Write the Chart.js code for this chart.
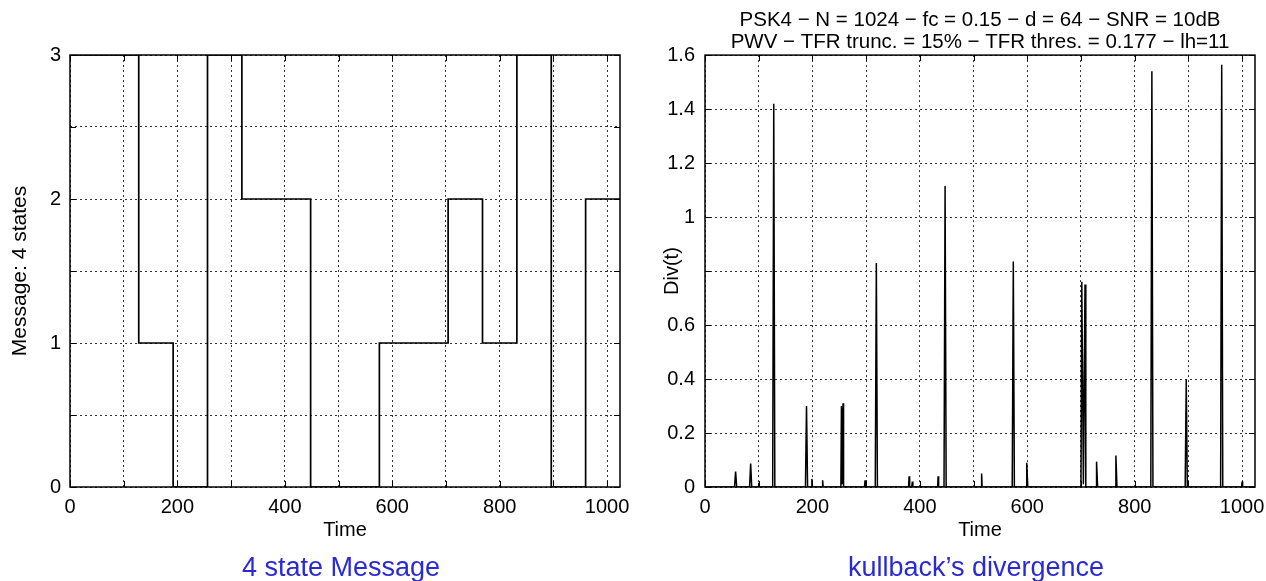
<!DOCTYPE html>
<html>
<head>
<meta charset="utf-8">
<script src="https://cdn.jsdelivr.net/npm/chart.js"></script>
<style>
  body { margin: 0; background: #fff; width: 1266px; height: 581px; overflow: hidden; position: relative; font-family: "Liberation Sans", Arial, sans-serif; }
  .panel { position: absolute; top: 0; width: 633px; height: 581px; }
  .caption { position: absolute; top: 552px; font-size: 27px; line-height: 30px; color: #2a2ad4; transform: translateX(-50%); white-space: nowrap; }
</style>
</head>
<body>
<div class="panel" style="left:0"><canvas id="msgChart" width="633" height="581"></canvas></div>
<div class="panel" style="left:633px"><canvas id="divChart" width="633" height="581"></canvas></div>
<div class="caption" style="left:341px">4 state Message</div>
<div class="caption" style="left:976px">kullback’s divergence</div>
<script>
// message symbols (d = 64 samples each), value holds until next time
const msgTime  = [0, 64, 128, 192, 256, 320, 384, 448, 512, 576, 640, 704, 768, 832, 896, 960, 1024];
const msgState = [3, 3,  1,   0,   3,   2,   2,   0,   0,   1,   1,   2,   1,   3,   0,   2,   2];

// kullback divergence: spikes, zero in between
const divTime  = [0,
  55, 57, 59,
  83, 85, 87,
  99, 100, 101,
  126, 128, 130,
  187, 189, 191,
  198, 199, 200,
  218, 219, 220,
  253, 254, 255.5, 257, 258,
  297, 298, 299,
  317, 319, 321,
  379, 380, 381,
  385, 386, 387,
  433, 434, 435,
  445, 447, 449,
  514, 515, 516,
  572, 574, 576,
  598, 599, 601,
  700, 701.5, 704.5, 707.5, 709,
  728, 729, 731,
  764, 765, 767,
  830, 832, 834,
  894, 896, 898,
  960, 962, 964,
  999, 1000, 1001,
  1024];
const divValue = [0,
  0, 0.057, 0,
  0, 0.087, 0,
  0, 0.015, 0,
  0, 1.42, 0,
  0, 0.30, 0,
  0, 0.03, 0,
  0, 0.025, 0,
  0, 0.30, 0.01, 0.31, 0,
  0, 0.025, 0,
  0, 0.83, 0,
  0, 0.04, 0,
  0, 0.02, 0,
  0, 0.04, 0,
  0, 1.115, 0,
  0, 0.05, 0,
  0, 0.835, 0,
  0, 0.09, 0,
  0, 0.76, 0.01, 0.75, 0,
  0, 0.094, 0,
  0, 0.117, 0,
  0, 1.54, 0,
  0, 0.40, 0,
  0, 1.564, 0,
  0, 0.02, 0,
  0];

const xTickLabels = ['0', '200', '400', '600', '800', '1000'];
const msgYLabels = ['0', '1', '2', '3'];
const divYLabels = ['0', '0.2', '0.4', '0.6', '', '1', '1.2', '1.4', '1.6'];

const divTitle = [
  'PSK4 − N = 1024 − fc = 0.15 − d = 64 − SNR = 10dB',
  'PWV − TFR trunc. = 15% − TFR thres. = 0.177 − lh=11'
];

Chart.defaults.font.family = '"Liberation Sans", Arial, sans-serif';
Chart.defaults.color = '#000';

// box round the plot + inward tick marks on all four sides
const framePlugin = {
  id: 'frame',
  afterDatasetsDraw(chart) {
    const { ctx, chartArea: a, scales } = chart;
    ctx.save();
    ctx.strokeStyle = '#000';
    ctx.lineWidth = 1;
    scales.x.ticks.forEach(t => {
      const px = Math.round(scales.x.getPixelForValue(t.value)) + 0.5;
      ctx.beginPath();
      ctx.moveTo(px, a.bottom); ctx.lineTo(px, a.bottom - 6);
      ctx.moveTo(px, a.top); ctx.lineTo(px, a.top + 6);
      ctx.stroke();
    });
    scales.y.ticks.forEach(t => {
      const py = Math.round(scales.y.getPixelForValue(t.value)) + 0.5;
      ctx.beginPath();
      ctx.moveTo(a.left, py); ctx.lineTo(a.left + 6, py);
      ctx.moveTo(a.right, py); ctx.lineTo(a.right - 6, py);
      ctx.stroke();
    });
    ctx.lineWidth = 1.5;
    ctx.strokeRect(a.left, a.top, a.right - a.left, a.bottom - a.top);
    ctx.restore();
  }
};

function xAxis() {
  return {
    type: 'linear', min: 0, max: 1024,
    afterFit: s => { s.height = 94; s.paddingLeft = 0; s.paddingRight = 0; },
    ticks: {
      stepSize: 100, includeBounds: false, autoSkip: false, maxRotation: 0, padding: 8,
      font: { size: 20 },
      callback: v => xTickLabels.includes(String(v)) ? String(v) : ''
    },
    grid: { color: '#333', lineWidth: 1, drawTicks: false },
    border: { display: false, dash: [2, 3] },
    title: { display: true, text: 'Time', font: { size: 20 }, padding: { top: 0, bottom: 39 } }
  };
}

new Chart(document.getElementById('msgChart'), {
  type: 'line',
  data: {
    datasets: [{
      data: msgTime.map((t, i) => ({ x: t, y: msgState[i] })),
      stepped: 'before',
      borderColor: '#000', borderWidth: 1.7, pointRadius: 0, fill: false
    }]
  },
  options: {
    responsive: false, animation: false,
    layout: { padding: { left: 0, right: 13, top: 55, bottom: 0 } },
    plugins: { legend: { display: false }, tooltip: { enabled: false } },
    scales: {
      x: xAxis(),
      y: {
        min: 0, max: 3,
        afterFit: s => { s.width = 70; },
        ticks: {
          stepSize: 0.5, padding: 9, font: { size: 20 },
          callback: v => msgYLabels.includes(String(v)) ? String(v) : ''
        },
        grid: { color: '#333', lineWidth: 1, drawTicks: false },
        border: { display: false, dash: [2, 3] },
        title: { display: true, text: 'Message: 4 states', font: { size: 21 }, padding: { top: 8, bottom: 0 } }
      }
    }
  },
  plugins: [framePlugin]
});

new Chart(document.getElementById('divChart'), {
  type: 'line',
  data: {
    datasets: [{
      data: divTime.map((t, i) => ({ x: t, y: divValue[i] })),
      borderColor: '#000', borderWidth: 1.5, pointRadius: 0, fill: false, tension: 0
    }]
  },
  options: {
    responsive: false, animation: false,
    layout: { padding: { left: 0, right: 11, top: 0, bottom: 0 } },
    plugins: {
      legend: { display: false }, tooltip: { enabled: false },
      title: {
        display: true, text: divTitle, fullSize: false, color: '#000',
        font: { size: 20.5, weight: 'normal', lineHeight: 1.1 },
        padding: { top: 9, bottom: 1 }
      }
    },
    scales: {
      x: xAxis(),
      y: {
        min: 0, max: 1.6,
        afterFit: s => { s.width = 72; },
        ticks: {
          stepSize: 0.2, padding: 10, font: { size: 20 },
          callback: (v, i) => divYLabels[i] ?? ''
        },
        grid: { color: '#333', lineWidth: 1, drawTicks: false },
        border: { display: false, dash: [2, 3] },
        title: { display: true, text: 'Div(t)', font: { size: 20 }, padding: { top: 27, bottom: 0 } }
      }
    }
  },
  plugins: [framePlugin]
});
</script>
</body>
</html>
